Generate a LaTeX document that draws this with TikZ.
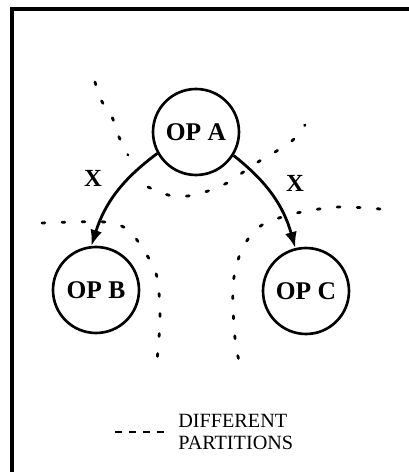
\documentclass[tikz,border=0pt]{standalone}
\usepackage{fontspec}
\setmainfont{Liberation Serif}
\usetikzlibrary{arrows.meta}

\begin{document}
\begin{tikzpicture}[x=1cm,y=1cm,
        opnode/.style={circle,draw,line width=1.5pt,minimum size=1.72cm,inner sep=0pt,font=\fontsize{14.5}{16}\selectfont\bfseries},
        flow/.style={line width=1.6pt,-{Latex[length=3.2mm,width=2.4mm]}},
        partline/.style={line width=1.6pt,line cap=round,dash pattern=on 1.6pt off 9.8pt},
        edgelabel/.style={font=\fontsize{14}{16}\selectfont\bfseries}]
        \useasboundingbox (0,0) rectangle (8.18,9.44);
        \draw[line width=2pt] (8.18,9.26) -- (0.24,9.26) -- (0.24,0);

        \node[opnode] (opa) at (3.92,6.80) {OP A};
        \node[opnode] (opb) at (1.92,3.64) {OP B};
        \node[opnode] (opc) at (6.12,3.62) {OP C};

        \draw[flow] (opa.209) to[bend right=18] (opb.96);
        \draw[flow] (opa.328) to[bend left=18] (opc.104);
        \node[edgelabel] (xab) at (1.86,5.88) {X};
        \node[edgelabel] (xac) at (5.90,5.78) {X};

        % partition boundaries
        \draw[partline] plot[smooth] coordinates {(1.90,7.80) (2.02,7.44) (2.24,7.10) (2.38,6.70) (2.56,6.34)};
        \draw[partline] plot[smooth] coordinates {(2.96,5.70) (3.36,5.54) (3.76,5.52) (4.16,5.62) (4.54,5.78) (4.84,5.98) (5.16,6.20) (5.50,6.40) (5.86,6.64) (6.10,6.94)};
        \draw[partline] plot[smooth] coordinates {(0.84,4.98) (2.10,5.00) (2.56,4.84) (2.90,4.40) (3.14,3.90) (3.20,3.08) (3.14,2.22)};
        \draw[partline] plot[smooth] coordinates {(7.60,5.26) (6.76,5.30) (5.94,5.18) (5.24,4.94) (4.86,4.50) (4.68,3.90) (4.66,3.30) (4.72,2.50) (4.86,1.94)};

        \node[anchor=west,align=left,inner sep=0pt,font=\fontsize{11.5}{12}\selectfont] (legend) at (3.56,0.80) {DIFFERENT\\PARTITIONS};
        \draw[line width=1.4pt,dash pattern=on 4pt off 4pt] (2.30,0.80) -- (3.29,0.80);
      \end{tikzpicture}
\end{document}
